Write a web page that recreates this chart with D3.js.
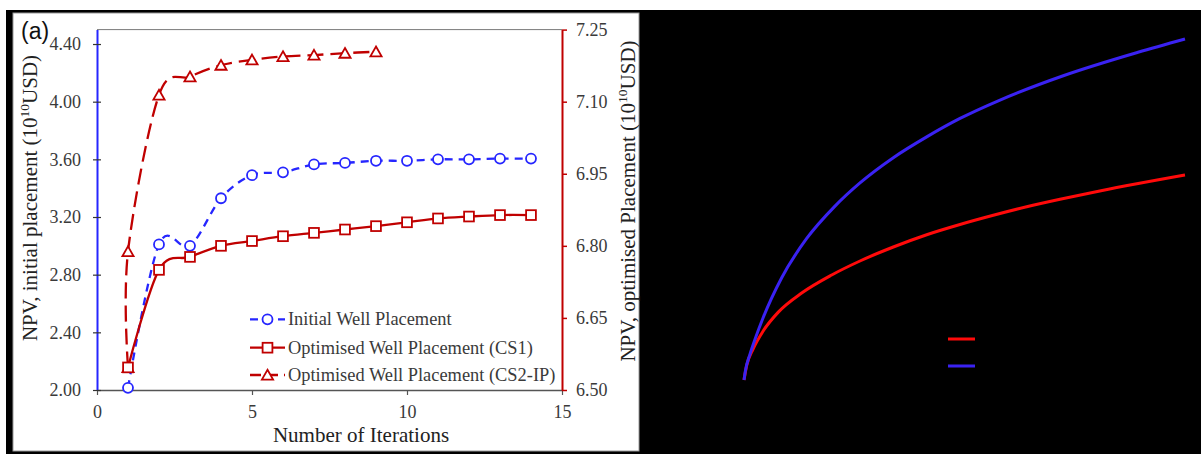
<!DOCTYPE html>
<html>
<head>
<meta charset="utf-8">
<script src="https://cdn.jsdelivr.net/npm/d3@7"></script>
<style>
  html, body { margin: 0; padding: 0; background: #fff; }
  svg { display: block; }
</style>
</head>
<body>
<svg id="fig" width="1201" height="454"></svg>
<script>
// ---- Panel (a): NPV versus number of iterations ----
const initialIter = [1, 2, 3, 4, 5, 6, 7, 8, 9, 10, 11, 12, 13, 14];
const initialNPV  = [2.015, 3.01, 3.00, 3.33, 3.49, 3.51, 3.565, 3.575, 3.59, 3.59, 3.60, 3.60, 3.605, 3.605];

const cs1Iter = [1, 2, 3, 4, 5, 6, 7, 8, 9, 10, 11, 12, 13, 14];
const cs1NPV  = [6.547, 6.750, 6.777, 6.800, 6.810, 6.820, 6.827, 6.834, 6.841, 6.849, 6.857, 6.861, 6.864, 6.864];

const cs2Iter = [1, 1, 2, 3, 4, 5, 6, 7, 8, 9];
const cs2NPV  = [6.547, 6.788, 7.114, 7.152, 7.176, 7.187, 7.194, 7.197, 7.201, 7.204];

const xTicks     = [0, 5, 10, 15];
const leftTicks  = [2.00, 2.40, 2.80, 3.20, 3.60, 4.00, 4.40];
const rightTicks = [6.50, 6.65, 6.80, 6.95, 7.10, 7.25];

const legendLabels = [
  "Initial Well Placement",
  "Optimised Well Placement (CS1)",
  "Optimised Well Placement (CS2-IP)"
];

// ---- Panel (b): two growth curves (relative units, 0-100) ----
const bBlueX = [0, 0.3, 1.36, 2.6, 4.38, 8.55, 14.22, 20.63, 26.3, 33.86, 41.43, 48.98, 58.05, 72.56, 89.34, 100];
const bBlueY = [0, 2.6, 7.6, 12.3, 18.4, 30.0, 41.5, 51.0, 57.8, 65.2, 71.3, 76.7, 82.1, 89.3, 96.1, 100];
const bRedX  = [0, 0.6, 2.11, 4.31, 7.78, 13.08, 19.89, 26.3, 33.86, 41.43, 48.98, 56.53, 64.1, 71.66, 80.95, 100];
const bRedY  = [0, 4.2, 9.2, 14.3, 19.9, 25.5, 30.8, 34.9, 39.0, 42.6, 45.6, 48.3, 50.8, 53.0, 55.5, 60.1];

const BLUE = "#2626ff", RED = "#c00000", TXT = "#3a3a3a";
const SERIF = "'Liberation Serif', 'Times New Roman', serif";

const svg = d3.select("#fig");

// page frame
svg.append("rect").attr("x", 0).attr("y", 0).attr("width", 1201).attr("height", 454).attr("fill", "#fff");
svg.append("rect").attr("x", 6).attr("y", 10).attr("width", 1195).attr("height", 444).attr("fill", "#000");
svg.append("rect").attr("x", 13).attr("y", 13).attr("width", 626).attr("height", 438)
   .attr("fill", "#fff").attr("stroke", "#9a9a9a").attr("stroke-width", 1);

// scales
const x  = d3.scaleLinear().domain([0, 15]).range([97, 562]);
const yL = d3.scaleLinear().domain([2.0, 4.5]).range([390, 29.6]);
const yR = d3.scaleLinear().domain([6.5, 7.25]).range([390, 29.6]);

const gA = svg.append("g");

// top border of plot area
gA.append("line").attr("x1", x(0)).attr("x2", x(15)).attr("y1", yL(4.5)).attr("y2", yL(4.5))
  .attr("stroke", "#7a7a7a").attr("stroke-width", 1);

// bottom axis
const ax = gA.append("g").attr("transform", `translate(0,${yL(2.0)})`)
  .call(d3.axisBottom(x).tickValues(xTicks).tickFormat(d3.format("d")).tickSize(5).tickSizeOuter(0).tickPadding(10));
ax.select(".domain").attr("stroke", "#555").attr("stroke-width", 1.5);
ax.selectAll(".tick line").attr("stroke", "#555").attr("stroke-width", 1.2);
ax.selectAll("text").attr("font-family", SERIF).attr("font-size", 18).attr("fill", TXT);

// left axis (initial placement)
const al = gA.append("g").attr("transform", `translate(${x(0)},0)`)
  .call(d3.axisLeft(yL).tickValues(leftTicks).tickFormat(d3.format(".2f")).tickSize(4).tickSizeOuter(0).tickPadding(12));
al.select(".domain").attr("stroke", BLUE).attr("stroke-width", 2);
al.selectAll(".tick line").attr("x1", -4).attr("x2", 4).attr("stroke", "#333").attr("stroke-width", 1.2);
al.selectAll("text").attr("font-family", SERIF).attr("font-size", 18).attr("fill", TXT);

// right axis (optimised placement)
const ar = gA.append("g").attr("transform", `translate(${x(15)},0)`)
  .call(d3.axisRight(yR).tickValues(rightTicks).tickFormat(d3.format(".2f")).tickSize(5).tickSizeOuter(0).tickPadding(9));
ar.select(".domain").attr("stroke", RED).attr("stroke-width", 2);
ar.selectAll(".tick line").attr("stroke", RED).attr("stroke-width", 1.5);
ar.selectAll("text").attr("font-family", SERIF).attr("font-size", 18).attr("fill", TXT);

// axis titles
gA.append("text").attr("x", 361).attr("y", 442).attr("text-anchor", "middle")
  .attr("font-family", SERIF).attr("font-size", 21).attr("fill", "#222").text("Number of Iterations");

function yTitle(tx, ty, main) {
  const t = gA.append("text").attr("transform", `translate(${tx},${ty}) rotate(-90)`)
    .attr("text-anchor", "middle").attr("font-family", SERIF).attr("font-size", 21).attr("fill", "#222");
  t.append("tspan").text(main + " (10");
  t.append("tspan").attr("font-size", 13.5).attr("dy", -8).text("10");
  t.append("tspan").attr("dy", 8).text("USD)");
}
yTitle(37, 198, "NPV, initial placement");
yTitle(635, 201, "NPV, optimised Placement");

gA.append("text").attr("x", 21).attr("y", 39).attr("font-family", "'Liberation Sans', Arial, sans-serif")
  .attr("font-size", 23).attr("fill", "#111").text("(a)");

// series
const lineL = d3.line().x(d => x(d[0])).y(d => yL(d[1])).curve(d3.curveCardinal.tension(0));
const lineR = d3.line().x(d => x(d[0])).y(d => yR(d[1])).curve(d3.curveCardinal.tension(0));

const initialPts = initialIter.map((v, i) => [v, initialNPV[i]]);
const cs1Pts = cs1Iter.map((v, i) => [v, cs1NPV[i]]);
const cs2Pts = cs2Iter.map((v, i) => [v, cs2NPV[i]]);

gA.append("path").attr("d", lineL(initialPts)).attr("fill", "none").attr("stroke", BLUE)
  .attr("stroke-width", 2.3).attr("stroke-dasharray", "8,6");
gA.append("path").attr("d", lineR(cs2Pts)).attr("fill", "none").attr("stroke", RED)
  .attr("stroke-width", 2.3).attr("stroke-dasharray", "16,7");
gA.append("path").attr("d", lineR(cs1Pts)).attr("fill", "none").attr("stroke", RED)
  .attr("stroke-width", 2.3);

const triPath = "M0,-5.2 L5.6,4.6 L-5.6,4.6 Z";
function circleMark(g, cx, cy) {
  g.append("circle").attr("cx", cx).attr("cy", cy).attr("r", 5)
    .attr("fill", "#fff").attr("stroke", BLUE).attr("stroke-width", 1.8);
}
function squareMark(g, cx, cy) {
  g.append("rect").attr("x", cx - 4.9).attr("y", cy - 4.9).attr("width", 9.8).attr("height", 9.8)
    .attr("fill", "#fff").attr("stroke", RED).attr("stroke-width", 1.8);
}
function triMark(g, cx, cy) {
  g.append("path").attr("d", triPath).attr("transform", `translate(${cx},${cy})`)
    .attr("fill", "#fff").attr("stroke", RED).attr("stroke-width", 1.8);
}
cs2Pts.forEach(d => triMark(gA, x(d[0]), yR(d[1])));
initialPts.forEach(d => circleMark(gA, x(d[0]), yL(d[1])));
cs1Pts.forEach(d => squareMark(gA, x(d[0]), yR(d[1])));

// legend
const legRows = [319.3, 347.7, 375];
const lg = gA.append("g");
lg.append("line").attr("x1", 250).attr("x2", 285).attr("y1", legRows[0]).attr("y2", legRows[0])
  .attr("stroke", BLUE).attr("stroke-width", 2.3).attr("stroke-dasharray", "8,6");
circleMark(lg, 267.5, legRows[0]);
lg.append("line").attr("x1", 250).attr("x2", 285).attr("y1", legRows[1]).attr("y2", legRows[1])
  .attr("stroke", RED).attr("stroke-width", 2.3);
squareMark(lg, 267.5, legRows[1]);
lg.append("line").attr("x1", 250).attr("x2", 285).attr("y1", legRows[2]).attr("y2", legRows[2])
  .attr("stroke", RED).attr("stroke-width", 2.3).attr("stroke-dasharray", "11,6");
triMark(lg, 267.5, legRows[2]);
legendLabels.forEach((t, i) => {
  lg.append("text").attr("x", 288).attr("y", legRows[i]).attr("dy", "0.32em")
    .attr("font-family", SERIF).attr("font-size", 18.4).attr("fill", TXT).text(t);
});

// ---- Panel (b) ----
const xb = d3.scaleLinear().domain([0, 100]).range([744, 1185]);
const yb = d3.scaleLinear().domain([0, 100]).range([380, 39]);
const lineB = d3.line().x(d => xb(d[0])).y(d => yb(d[1])).curve(d3.curveMonotoneX);
const gB = svg.append("g");
gB.append("path").attr("d", lineB(bRedX.map((v, i) => [v, bRedY[i]])))
  .attr("fill", "none").attr("stroke", "#ff0a0a").attr("stroke-width", 3);
gB.append("path").attr("d", lineB(bBlueX.map((v, i) => [v, bBlueY[i]])))
  .attr("fill", "none").attr("stroke", "#3a22f2").attr("stroke-width", 3);
gB.append("line").attr("x1", 948).attr("x2", 975).attr("y1", 339).attr("y2", 339)
  .attr("stroke", "#ff0a0a").attr("stroke-width", 3);
gB.append("line").attr("x1", 948).attr("x2", 975).attr("y1", 366).attr("y2", 366)
  .attr("stroke", "#3a22f2").attr("stroke-width", 3);
</script>
</body>
</html>
